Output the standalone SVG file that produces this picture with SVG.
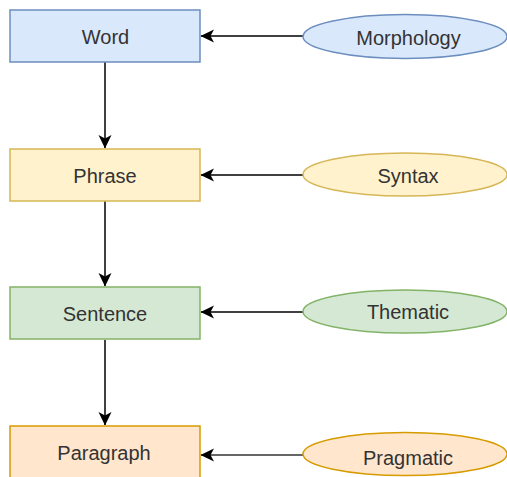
<svg xmlns="http://www.w3.org/2000/svg" width="507" height="477" viewBox="0 0 507 477">
<defs>
<style>
text{font-family:"Liberation Sans",Arial,sans-serif;font-size:20px;fill:#333;text-anchor:middle}
.blue{fill:#dae8fc;stroke:#6c8ebf;stroke-width:1.5}
.yellow{fill:#fff2cc;stroke:#d6b656;stroke-width:1.5}
.green{fill:#d5e8d4;stroke:#82b366;stroke-width:1.5}
.orange{fill:#ffe6cc;stroke:#d79b00;stroke-width:1.5}
.edge{fill:none;stroke:#000;stroke-width:1.5}
</style>
<marker id="arr" viewBox="0 0 14 14" refX="13" refY="7" markerWidth="14" markerHeight="14" markerUnits="userSpaceOnUse" orient="auto">
<path d="M0,0.5 L13.5,7 L0,13.5 L3.5,7 Z" fill="#000"/>
</marker>
</defs>
<g id="connectors">
<path class="edge" d="M105,62 V148" marker-end="url(#arr)"/>
<path class="edge" d="M105,201 V286" marker-end="url(#arr)"/>
<path class="edge" d="M105,340 V425" marker-end="url(#arr)"/>
<path class="edge" d="M303,36 H201" marker-end="url(#arr)"/>
<path class="edge" d="M303,175 H201" marker-end="url(#arr)"/>
<path class="edge" d="M303,312 H201" marker-end="url(#arr)"/>
<path class="edge" d="M303,455 H201" style="stroke:#666;stroke-width:2" marker-end="url(#arr)"/>
</g>
<g id="word"><rect class="blue" x="10" y="10" width="190" height="52"/><text x="105.5" y="44">Word</text></g>
<g id="phrase"><rect class="yellow" x="10" y="149" width="190" height="52"/><text x="105" y="183">Phrase</text></g>
<g id="sentence"><rect class="green" x="10" y="287" width="190" height="52"/><text x="105" y="321">Sentence</text></g>
<g id="paragraph"><rect class="orange" x="10" y="426" width="190" height="52"/><text x="104" y="460">Paragraph</text></g>
<g id="morphology"><ellipse class="blue" cx="405" cy="36.5" rx="102" ry="22"/><text x="408.5" y="45">Morphology</text></g>
<g id="syntax"><ellipse class="yellow" cx="405" cy="174.5" rx="102" ry="21.5"/><text x="408" y="183">Syntax</text></g>
<g id="thematic"><ellipse class="green" cx="405" cy="311.5" rx="102" ry="21.5"/><text x="408" y="319">Thematic</text></g>
<g id="pragmatic"><ellipse class="orange" cx="405" cy="454" rx="102" ry="21.5"/><text x="408" y="465">Pragmatic</text></g>
</svg>
